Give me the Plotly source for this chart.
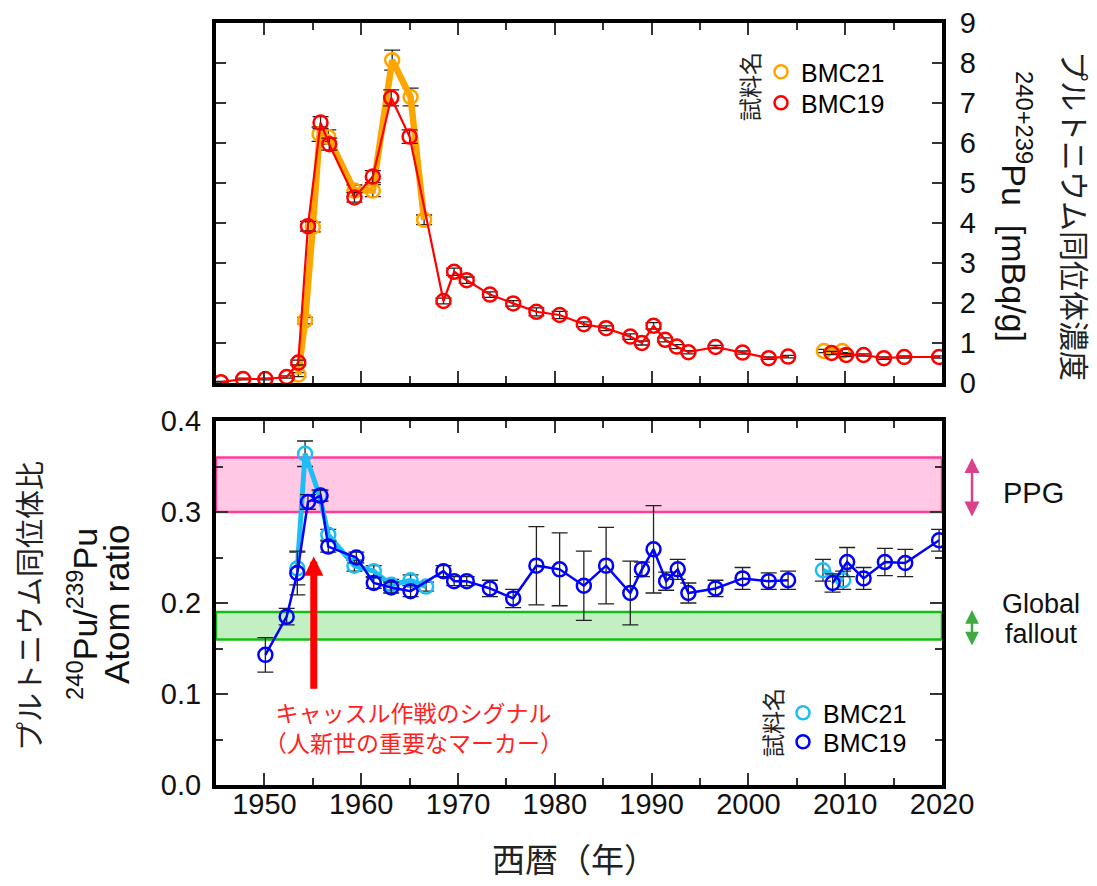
import plotly.graph_objects as go

# ---------------- data ----------------
# Top panel: 240+239Pu concentration [mBq/g]
bmc21_conc_year = [1953.5, 1954.2, 1955.0, 1955.7, 1956.6, 1959.3, 1961.2, 1963.2, 1965.1, 1966.5, None, 2007.8, 2009.7]
bmc21_conc = [0.21, 1.56, 3.90, 6.22, 6.15, 4.81, 4.81, 8.07, 7.15, 4.08, None, 0.80, 0.80]
bmc21_conc_err = [0.05, 0.08, 0.12, 0.18, 0.18, 0.14, 0.15, 0.25, 0.22, 0.12, None, 0.04, 0.04]

bmc19_conc_year = [1945.5, 1947.8, 1950.1, 1952.3, 1953.5, 1954.5, 1955.8, 1956.7, 1959.3, 1961.2,
                   1963.1, 1965.0, 1968.5, 1969.6, 1970.9, 1973.3, 1975.7, 1978.1, 1980.5, 1983.0,
                   1985.3, 1987.8, 1989.0, 1990.2, 1991.4, 1992.6, 1993.8, 1996.6, 1999.4, 2002.1,
                   2004.1, None, 2008.6, 2010.1, 2011.9, 2014.0, 2016.1, 2019.7]
bmc19_conc = [0.02, 0.10, 0.10, 0.15, 0.51, 3.92, 6.51, 5.97, 4.64, 5.16,
              7.13, 6.16, 2.05, 2.78, 2.57, 2.21, 1.99, 1.78, 1.70, 1.47,
              1.37, 1.16, 1.00, 1.43, 1.08, 0.91, 0.77, 0.90, 0.76, 0.62,
              0.66, None, 0.75, 0.70, 0.70, 0.62, 0.65, 0.65]
bmc19_conc_err = [0.02, 0.02, 0.02, 0.03, 0.06, 0.12, 0.15, 0.15, 0.12, 0.15,
                  0.20, 0.17, 0.07, 0.09, 0.08, 0.07, 0.07, 0.10, 0.09, 0.06,
                  0.06, 0.07, 0.05, 0.08, 0.05, 0.05, 0.04, 0.04, 0.04, 0.03,
                  0.03, None, 0.04, 0.04, 0.03, 0.03, 0.03, 0.03]

# Bottom panel: 240Pu/239Pu atom ratio
bmc21_ratio_year = [1953.4, 1954.2, 1955.7, 1956.6, 1959.3, 1961.3, 1963.1, 1965.1, 1966.7, None, 2007.7, 2009.8]
bmc21_ratio = [0.238, 0.364, 0.318, 0.275, 0.241, 0.235, 0.220, 0.225, 0.218, None, 0.236, 0.225]
bmc21_ratio_err = [0.018, 0.014, 0.006, 0.006, 0.006, 0.006, 0.006, 0.006, 0.005, None, 0.012, 0.010]

bmc19_ratio_year = [1950.1, 1952.3, 1953.4, 1954.5, 1955.8, 1956.6, 1959.5, 1961.3, 1963.1, 1965.1,
                    1968.5, 1969.6, 1970.9, 1973.3, 1975.7, 1978.1, 1980.5, 1983.0, 1985.3, 1987.8,
                    1989.0, 1990.2, 1991.5, 1992.7, 1993.8, 1996.6, 1999.4, 2002.1, 2004.1, None,
                    2008.7, 2010.2, 2011.9, 2014.1, 2016.2, 2019.7]
bmc19_ratio = [0.143, 0.185, 0.233, 0.311, 0.318, 0.262, 0.250, 0.222, 0.217, 0.213,
               0.235, 0.224, 0.224, 0.216, 0.205, 0.241, 0.237, 0.219, 0.241, 0.211,
               0.237, 0.259, 0.224, 0.237, 0.211, 0.216, 0.227, 0.224, 0.225, None,
               0.222, 0.245, 0.227, 0.245, 0.244, 0.269]
bmc19_ratio_err = [0.019, 0.009, 0.024, 0.008, 0.006, 0.006, 0.006, 0.006, 0.006, 0.006,
                   0.006, 0.005, 0.005, 0.009, 0.010, 0.043, 0.040, 0.038, 0.042, 0.035,
                   0.008, 0.048, 0.010, 0.011, 0.011, 0.009, 0.012, 0.009, 0.010, None,
                   0.010, 0.016, 0.012, 0.015, 0.015, 0.012]

# reference bands
ppg_band = [0.30, 0.36]
global_fallout_band = [0.16, 0.19]

# Castle signal arrow (year, tail ratio, tip ratio)
castle_year = 1955.1
castle_tail = 0.104
castle_tip = 0.251

x_range = [1945, 2020]
conc_range = [0, 9]
ratio_range = [0, 0.4]

# ---------------- layout geometry ----------------
# the page body has an 8px default margin, so the figure is drawn 8px in from the corner
OFF = 8
FIG_W, FIG_H = 1097 - OFF, 886 - OFF
SX0, SX1, SY0, SY1 = 216, 942, 23, 785      # plot area in screen pixels
L, T = SX0 - OFF, SY0 - OFF
PW, PH = SX1 - SX0, SY1 - SY0
R, B = FIG_W - L - PW, FIG_H - T - PH


def px_x(p):
    return (p - SX0) / PW


def px_y(p):
    return 1 - (p - SY0) / PH


LAT = "Liberation Sans, Arial, sans-serif"
JP = "Noto Sans CJK JP, Noto Sans, sans-serif"
TICK_FONT = dict(family=LAT, size=29, color="#111")

ORANGE = "#ffa500"
RED = "#ff0000"
CYAN = "#1ebef5"
BLUE = "#0000ff"

err_style = dict(type="data", color="#222", thickness=1.3, width=8)

fig = go.Figure()


def add_series(x, y, err, color, lw, xa, ya):
    fig.add_trace(go.Scatter(
        x=x, y=y, mode="lines+markers", xaxis=xa, yaxis=ya,
        line=dict(color=color, width=lw),
        marker=dict(symbol="circle-open", size=14, color=color, line=dict(width=2.5, color=color)),
        error_y=dict(array=err, **err_style),
        showlegend=False, connectgaps=False, hoverinfo="x+y",
    ))


add_series(bmc21_conc_year, bmc21_conc, bmc21_conc_err, ORANGE, 6.5, "x", "y")
add_series(bmc19_conc_year, bmc19_conc, bmc19_conc_err, RED, 2.2, "x", "y")
add_series(bmc21_ratio_year, bmc21_ratio, bmc21_ratio_err, CYAN, 5, "x2", "y2")
add_series(bmc19_ratio_year, bmc19_ratio, bmc19_ratio_err, BLUE, 2.5, "x2", "y2")

# legend entries (marker-only), one small legend per entry for exact placement
legend_entries = [("BMC21", ORANGE, "legend", "x", "y", 761, 72),
                  ("BMC19", RED, "legend3", "x", "y", 761, 103),
                  ("BMC21", CYAN, "legend2", "x2", "y2", 783, 713),
                  ("BMC19", BLUE, "legend4", "x2", "y2", 783, 742)]
legend_layout = {}
for name, color, leg, xa, ya, lx, ly in legend_entries:
    fig.add_trace(go.Scatter(
        x=[None], y=[None], mode="markers", name=name, legend=leg, xaxis=xa, yaxis=ya,
        marker=dict(symbol="circle-open", size=13, color=color, line=dict(width=2.5, color=color)),
    ))
    legend_layout[leg] = dict(x=px_x(lx), y=px_y(ly), xanchor="left", yanchor="middle",
                              bgcolor="rgba(0,0,0,0)", font=dict(family=LAT, size=25, color="black"),
                              itemwidth=30)

# bands
shapes = []
for band, fill, edge in [(ppg_band, "#ffc8e4", "#ff3d99"), (global_fallout_band, "#c2f0c2", "#10c010")]:
    shapes.append(dict(type="rect", xref="x2 domain", yref="y2", x0=0, x1=1, y0=band[0], y1=band[1],
                       fillcolor=fill, line=dict(color=edge, width=2.5), layer="below"))

frame = dict(showline=True, linewidth=4, linecolor="black", mirror="allticks", automargin=False,
             showgrid=False, zeroline=False, ticks="inside", tickcolor="#333", tickwidth=1.5,
             ticklabeloverflow="allow")

fig.update_layout(
    width=FIG_W, height=FIG_H,
    margin=dict(l=L, r=R, t=T, b=B, autoexpand=False),
    plot_bgcolor="white", paper_bgcolor="white",
    shapes=shapes,
    xaxis=dict(domain=[0, 1], range=x_range, anchor="y", showticklabels=False,
               dtick=10, tick0=1950, ticklen=12,
               minor=dict(dtick=5, tick0=1945, ticklen=7, ticks="inside", tickcolor="#333"), **frame),
    yaxis=dict(domain=[px_y(383), 1], range=conc_range, anchor="x", side="right",
               dtick=1, ticklen=10, tickfont=TICK_FONT, ticklabelstandoff=8, **frame),
    xaxis2=dict(domain=[0, 1], range=x_range, anchor="y2", dtick=10, tick0=1950, ticklen=12,
                tickfont=TICK_FONT, ticklabelstandoff=-10,
                minor=dict(dtick=5, tick0=1945, ticklen=7, ticks="inside", tickcolor="#333"), **frame),
    yaxis2=dict(domain=[0, px_y(421)], range=ratio_range, anchor="x2", dtick=0.1, tickformat=".1f",
                ticklen=12, tickfont=TICK_FONT, ticklabelstandoff=5,
                minor=dict(dtick=0.05, ticklen=7, ticks="inside", tickcolor="#333"), **frame),
    **legend_layout,
)


def label(text, sx, sy, size, family=LAT, color="#111", angle=0):
    return dict(text=text, xref="paper", yref="paper", x=px_x(sx), y=px_y(sy),
                xanchor="center", yanchor="middle", showarrow=False, textangle=angle,
                font=dict(family=family, size=size, color=color))


ann = [
    # legend titles (rotated)
    label("試料名", 749, 87, 23, JP, "#222", -90),
    label("試料名", 772, 723, 23, JP, "#222", -90),
    # axis titles
    label("プルトニウム同位体濃度", 1076, 216, 30, JP, "#222", 90),
    label("<sup>240+239</sup>Pu  [mBq/g]", 1017, 206, 34, LAT, "#111", 90),
    label("プルトニウム同位体比", 28, 606, 29, JP, "#222", -90),
    label("<sup>240</sup>Pu/<sup>239</sup>Pu", 82, 614, 34, LAT, "#111", -90),
    label("Atom ratio", 116, 604, 35, LAT, "#111", -90),
    label("西暦（年）", 574, 858, 33, JP, "#222"),
    # Castle signal text
    label("キャッスル作戦のシグナル<br>（人新世の重要なマーカー）", 413, 727, 23, JP, "#ff2222"),
    # band labels
    label("PPG", 1033, 493, 29),
    label("Global", 1041, 604, 27),
    label("fallout", 1041, 634, 27),
]
# Castle signal arrow
ann.append(dict(text="", x=castle_year, y=castle_tip, ax=castle_year, ay=castle_tail,
                xref="x2", yref="y2", axref="x2", ayref="y2", showarrow=True,
                arrowhead=2, arrowsize=0.55, arrowwidth=7, arrowcolor="#ff0000", standoff=0))
# band double arrows
ann.append(dict(text="", xref="paper", yref="paper", x=px_x(972), y=px_y(458), ax=0, ay=60,
                showarrow=True, arrowside="end+start", arrowhead=2, startarrowhead=2,
                arrowsize=1.2, startarrowsize=1.2, arrowwidth=2.5, arrowcolor="#d9418a",
                standoff=0, startstandoff=0))
ann.append(dict(text="", xref="paper", yref="paper", x=px_x(972), y=px_y(610), ax=0, ay=37,
                showarrow=True, arrowside="end+start", arrowhead=2, startarrowhead=2,
                arrowsize=1.1, startarrowsize=1.1, arrowwidth=2.5, arrowcolor="#3faa3f",
                standoff=0, startstandoff=0))

fig.update_layout(annotations=ann)

fig.write_html("out.html")
